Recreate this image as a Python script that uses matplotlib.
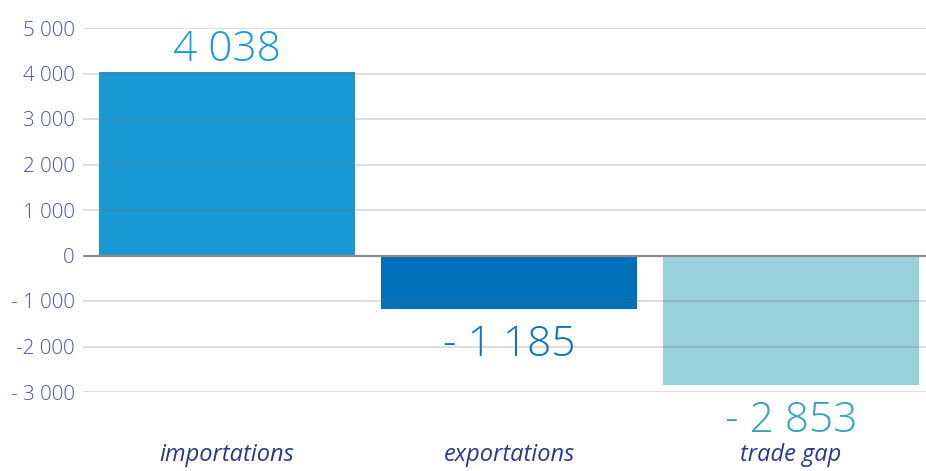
import matplotlib.pyplot as plt

categories = ['importations', 'exportations', 'trade gap']
values = [4038, -1185, -2853]
value_labels = ['4 038', '- 1 185', '- 2 853']
bar_colors = ['#1899d3', '#0070b8', '#98d0dc']
label_colors = ['#1a9ad6', '#0a74bb', '#35a3bd']

yticks = [5000, 4000, 3000, 2000, 1000, 0, -1000, -2000, -3000]
ytick_labels = ['5 000', '4 000', '3 000', '2 000', '1 000', '0', '- 1 000', '-2 000', '- 3 000']

plt.rcParams['font.family'] = ['Open Sans', 'DejaVu Sans']

fig = plt.figure(figsize=(9.26, 4.71), dpi=100)
ax = fig.add_axes([83 / 926, 1 - 392 / 471, 1 - 83 / 926, (392 - 28) / 471])

x = range(len(categories))
ax.bar(x, values, width=0.908, color=bar_colors, zorder=1)

# grid lines sit on top of the bars, so they show through faintly
for t in yticks:
    if t == 0:
        ax.axhline(0, color='#8c8c8c', lw=1.6, zorder=3)
    else:
        ax.axhline(t, color='#707070', lw=1.2, alpha=0.28, zorder=3)

ax.set_xlim(-0.511, 2.479)
ax.set_ylim(-3000, 5000)
ax.set_yticks(yticks)
ax.set_yticklabels(ytick_labels, fontsize=14.8, color='#4656a0', fontweight='light')
ax.set_xticks(list(x))
ax.set_xticklabels(categories, fontsize=17, color='#263a8c', style='italic')
ax.tick_params(axis='y', length=0, pad=6)
ax.tick_params(axis='x', length=0, pad=37)
for s in ax.spines.values():
    s.set_visible(False)

for i, (v, lab) in enumerate(zip(values, value_labels)):
    if v > 0:
        ax.text(i, v + 240, lab, ha='center', va='baseline', fontsize=30.5,
                color=label_colors[i], fontweight='light', clip_on=False)
    else:
        ax.text(i, v - 320, lab, ha='center', va='top', fontsize=30.5,
                color=label_colors[i], fontweight='light', clip_on=False)

fig.savefig('out.png', dpi=100)
